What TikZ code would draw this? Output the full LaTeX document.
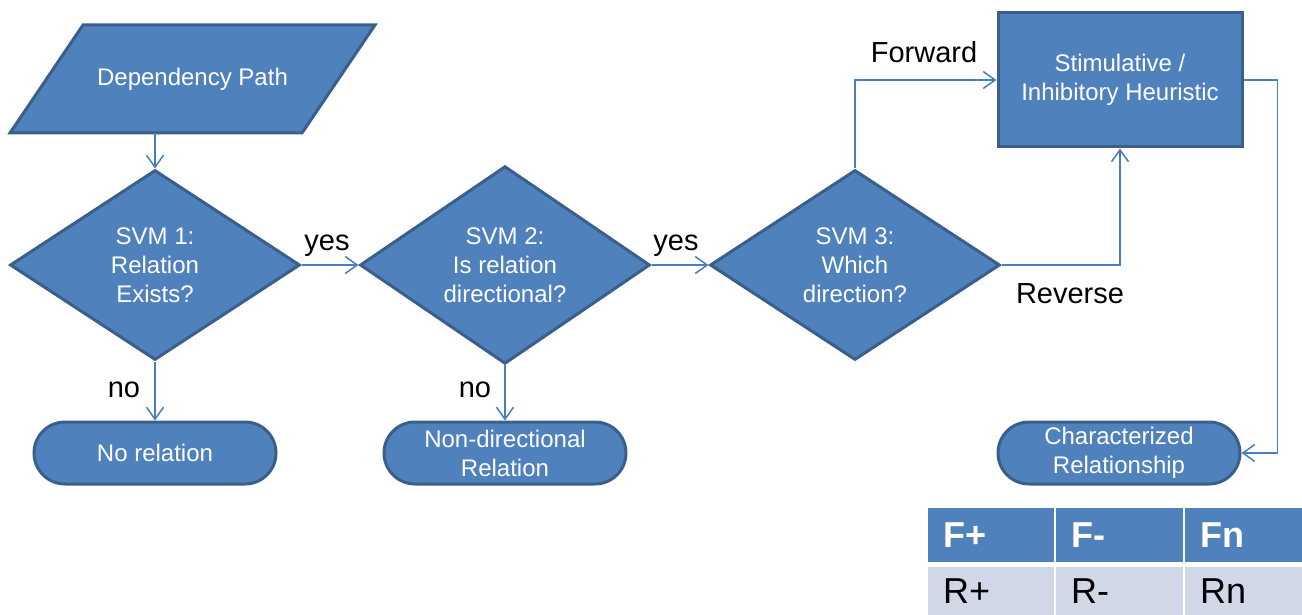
\documentclass[tikz,border=0pt]{standalone}
\usepackage{fontspec}
\setmainfont{Liberation Sans}
\usetikzlibrary{shapes.geometric,shapes.misc,arrows.meta}
\definecolor{fillblue}{HTML}{4F81BD}
\definecolor{edgeblue}{HTML}{3A5F8B}
\definecolor{lineblue}{HTML}{4A7EBB}
\definecolor{rowlight}{HTML}{D0D8E8}
\tikzset{
  box/.style={draw=edgeblue, line width=3pt, fill=fillblue, text=white,
    font=\fontsize{24}{29}\selectfont, align=center, inner sep=0pt},
  shapeline/.style={draw=edgeblue, line width=3pt, fill=fillblue, line join=miter},
  dec/.style={box, diamond, minimum width=290pt, minimum height=190pt},
  term/.style={box, rounded rectangle, minimum width=242pt, minimum height=62pt},
  conn/.style={draw=lineblue, line width=1.5pt, -{Straight Barb[length=12pt,width=17pt]}},
  lab/.style={font=\fontsize{29}{34}\selectfont, inner sep=0pt},
  hcell/.style={fill=fillblue, text=white, font=\bfseries\fontsize{36}{40}\selectfont,
    minimum height=54pt, inner xsep=15pt, inner ysep=0pt, align=left, anchor=west},
  bcell/.style={fill=rowlight, text=black, font=\fontsize{36}{40}\selectfont,
    minimum height=48pt, inner xsep=15pt, inner ysep=0pt, align=left, anchor=west},
}
\begin{document}
\begin{tikzpicture}[x=1pt,y=-1pt]
\useasboundingbox (0,0) rectangle (1302,615);
% parallelogram (input)
\draw[shapeline] (83,25) -- (375,25) -- (302,133) -- (10,133) -- cycle;
\node[text=white, font=\fontsize{24}{29}\selectfont, inner sep=0pt,
  minimum width=292pt, minimum height=108pt] (dp) at (192.5,79) {Dependency Path};
% nodes
\node[dec] (d1) at (155,265) {SVM 1:\\Relation\\Exists?};
\node[dec] (d2) at (505,265) {SVM 2:\\Is relation\\directional?};
\node[dec] (d3) at (855,265) {SVM 3:\\Which\\direction?};
\node[term] (t1) at (155,453) {No relation};
\node[term] (t2) at (505,453) {Non-directional\\Relation};
\node[box, rectangle, minimum width=244pt, minimum height=134pt] (st) at (1120,80) {Stimulative /\\Inhibitory Heuristic};
\node[term] (cr) at (1119,453) {Characterized\\Relationship};
% connectors
\draw[conn] (dp.south -| d1.north) -- (d1.north);
\draw[conn] (d1.east) -- (d2.west);
\draw[conn] (d2.east) -- (d3.west);
\draw[conn] (d1.south) -- (t1.north);
\draw[conn] (d2.south) -- (t2.north);
\draw[conn] (d3.north) |- (st.west);
\draw[conn] (d3.east) -| (st.south);
\draw[conn] (st.east) -- ++(34,0) |- (cr.east);
% labels
\node[lab] (lyes1) at (327,246) {yes};
\node[lab] (lyes2) at (676,246) {yes};
\node[lab] (lno1) at (124,390) {no};
\node[lab] (lno2) at (475,390) {no};
\node[lab] (lfwd) at (924,52) {Forward};
\node[lab] (lrev) at (1070,294) {Reverse};
% table
\node[hcell, text width=96pt] (c11) at (928,535) {F+};
\node[hcell, text width=97pt] (c12) at (1056,535) {F-};
\node[hcell, text width=87pt] (c13) at (1185,535) {Fn};
\node[bcell, text width=96pt] (c21) at (928,591) {R+};
\node[bcell, text width=97pt] (c22) at (1056,591) {R-};
\node[bcell, text width=87pt] (c23) at (1185,591) {Rn};
\end{tikzpicture}
\end{document}
